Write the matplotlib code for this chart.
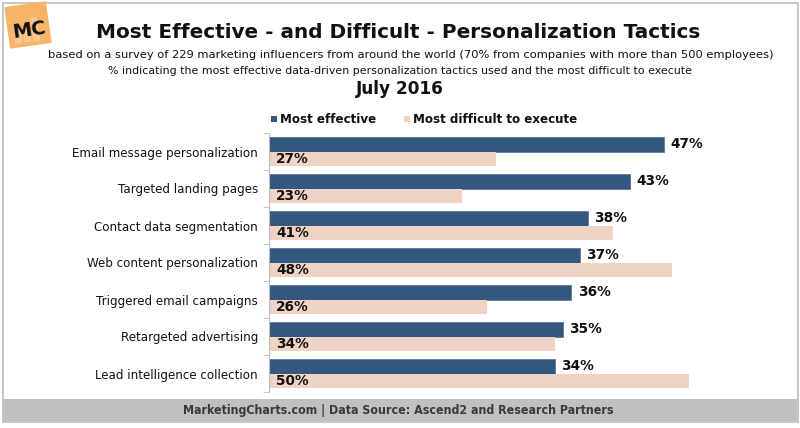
import matplotlib
matplotlib.use("Agg")
import matplotlib.pyplot as plt
import matplotlib.patches as mpatches
import matplotlib.transforms as mtransforms
import numpy as np

# data
tactics = [
    "Email message personalization",
    "Targeted landing pages",
    "Contact data segmentation",
    "Web content personalization",
    "Triggered email campaigns",
    "Retargeted advertising",
    "Lead intelligence collection",
]
most_effective = [47, 43, 38, 37, 36, 35, 34]
most_difficult = [27, 23, 41, 48, 26, 34, 50]

series_names = ["Most effective", "Most difficult to execute"]
dark = "#34577F"
light = "#EFD3C4"

plt.rcParams['font.family'] = ['DejaVu Sans']

W, H = 800, 428
fig = plt.figure(figsize=(W / 100, H / 100), dpi=100)
fig.patch.set_facecolor("white")

# overlay in pixel coords for frame, footer, logo, legend
bg = fig.add_axes([0, 0, 1, 1], zorder=-1)
bg.set_xlim(0, W)
bg.set_ylim(H, 0)
bg.axis("off")
bg.add_patch(mpatches.Rectangle((2.5, 2.5), 795, 419, fill=False, ec="#C8C8C8", lw=1.5))
bg.add_patch(mpatches.Rectangle((3, 399), 794, 22, fc="#C0C0C0", ec="none"))
bg.text(398, 410.5, "MarketingCharts.com | Data Source: Ascend2 and Research Partners",
        ha="center", va="center", fontsize=8.9, fontweight="bold", color="#3A3A3A",
        fontstretch="condensed")

# logo
rot = mtransforms.Affine2D().rotate_deg_around(28, 25, -8) + bg.transData
bg.add_patch(mpatches.Rectangle((7, 4), 42, 42, fc="#F7B366", ec="none", transform=rot))
for bx, bh in [(13, 20), (22, 14), (31, 24)]:
    bg.add_patch(mpatches.Rectangle((bx, 42 - bh), 7, bh, fc="#F9C893", ec="none", transform=rot))
bg.text(29, 30, "MC", ha="center", va="center", fontsize=14, fontweight="bold",
        color="#111111", rotation=8)

# titles
fig.text(398 / W, 1 - 33 / H, "Most Effective - and Difficult - Personalization Tactics",
         ha="center", va="center", fontsize=14.4, fontweight="bold", color="#111111")
fig.text(411 / W, 1 - 55 / H,
         "based on a survey of 229 marketing influencers from around the world (70% from companies with more than 500 employees)",
         ha="center", va="center", fontsize=8.25, color="#111111")
fig.text(400 / W, 1 - 71 / H,
         "% indicating the most effective data-driven personalization tactics used and the most difficult to execute",
         ha="center", va="center", fontsize=7.95, color="#111111")
fig.text(400 / W, 1 - 89 / H, "July 2016", ha="center", va="center",
         fontsize=12.2, fontweight="bold", color="#111111")

# legend
bg.add_patch(mpatches.Rectangle((271, 116), 6, 6, fc=dark, ec="none"))
bg.text(280, 119.5, series_names[0], ha="left", va="center", fontsize=8.6, fontweight="bold", color="#111111")
bg.add_patch(mpatches.Rectangle((404, 116), 6, 6, fc=light, ec="none"))
bg.text(413, 119.5, series_names[1], ha="left", va="center", fontsize=8.6, fontweight="bold", color="#111111")

# main chart
ax = fig.add_axes([269 / W, 1 - 392 / H, 504 / W, 259 / H])
ax.set_facecolor("none")
y = np.arange(len(tactics))
bh = 0.39
ax.barh(y - bh / 2, most_effective, height=bh, color=dark, edgecolor="#5A7AA0", linewidth=0.6)
ax.barh(y + bh / 2, most_difficult, height=bh, color=light, edgecolor="none")
ax.set_xlim(0, 60)
ax.set_ylim(len(tactics) - 0.5, -0.5)

for i, v in enumerate(most_effective):
    ax.annotate(f"{v}%", (v, i - bh / 2), xytext=(4.5, 0), textcoords="offset points",
                ha="left", va="center", fontsize=9.8, fontweight="bold", color="#111111")
for i, v in enumerate(most_difficult):
    ax.annotate(f"{v}%", (0, i + bh / 2), xytext=(5, 0), textcoords="offset points",
                ha="left", va="center", fontsize=9.8, fontweight="bold", color="#111111")

for s in ["top", "right", "bottom"]:
    ax.spines[s].set_visible(False)
ax.spines["left"].set_color("#BBBBBB")
ax.set_xticks([])
ax.set_yticks(y)
ax.set_yticklabels(tactics, fontsize=8.6, color="#111111")
ax.tick_params(axis="y", length=0, pad=8)
ax.set_yticks(np.arange(-0.5, len(tactics), 1), minor=True)
ax.tick_params(axis="y", which="minor", length=4, color="#BBBBBB")

fig.savefig("out.png", dpi=100)
